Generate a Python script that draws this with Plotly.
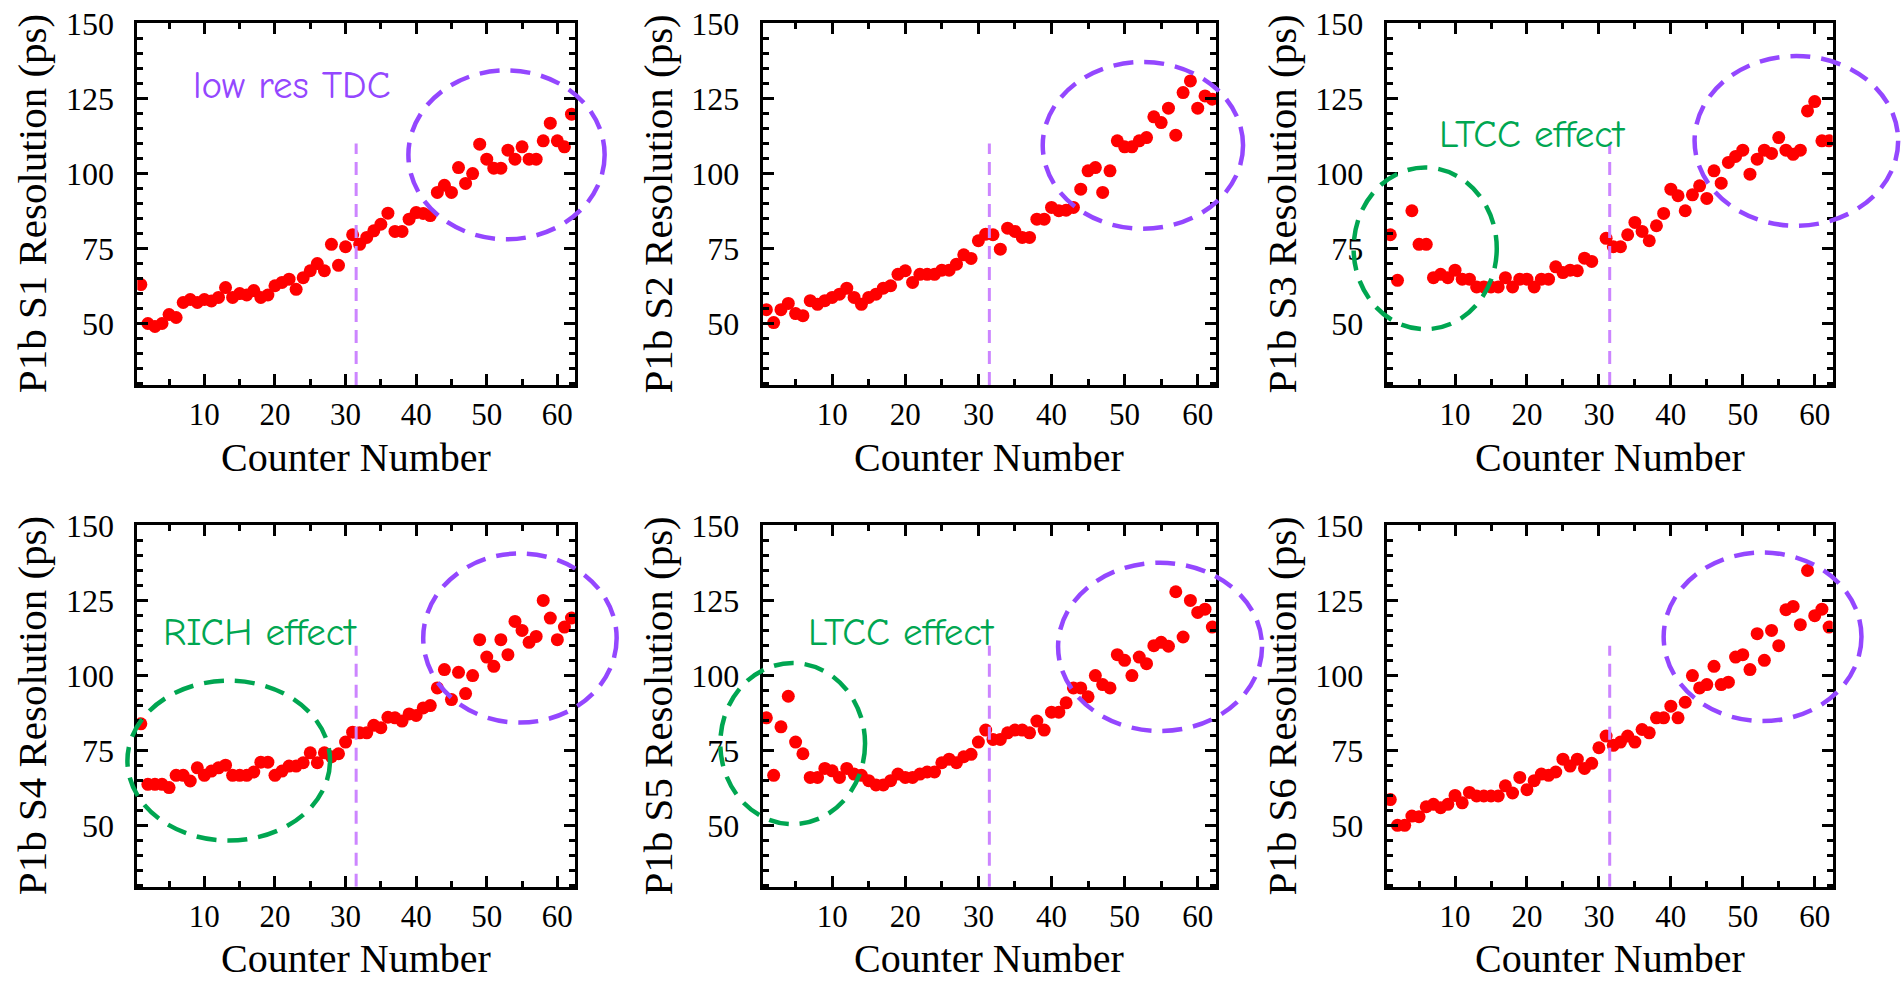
import plotly.graph_objects as go

# ---------------- data ----------------
COUNTERS = list(range(1, 63))

S1 = [63, 50, 49, 50, 53, 52, 57, 58, 57, 58, 57.5, 58.7, 62, 58.7, 60, 59.5, 61, 58.7, 59.5, 62.6,
      63.7, 64.8, 61.4, 65.3, 67.6, 70, 67.6, 76.4, 69.4, 75.6, 79.6, 76.4, 78.7, 80.9, 83.1, 86.8, 80.7, 80.7, 84.8, 87,
      86.7, 86, 93.7, 96.1, 93.7, 102, 96.7, 100, 109.8, 104.8, 101.8, 101.8, 107.8, 104.8, 108.9, 104.8, 104.8, 110.9, 116.8, 110.9,
      108.9, 119.8]
S2 = [54.6, 50.3, 54.6, 56.7, 53.3, 52.6, 57.6, 56.4, 57.6, 58.7, 59.8, 61.8, 58.7, 56.4, 58.7, 59.8, 61.8, 62.6, 66.4, 67.6,
      63.7, 66.4, 66.4, 66.4, 67.8, 67.8, 69.8, 72.9, 71.7, 77.6, 79.8, 79.6, 74.8, 81.8, 80.7, 78.7, 78.7, 84.8, 84.8, 88.7,
      87.6, 87.8, 88.7, 94.8, 100.9, 102, 93.7, 100.9, 110.9, 108.9, 108.9, 110.9, 112, 118.9, 117, 121.8, 112.8, 127, 130.9, 121.8,
      125.9, 124.8]
S3 = [79.6, 64.4, None, 87.6, 76.4, 76.4, 65.3, 66.4, 65.3, 67.8, 64.8, 64.8, 62.2, 62.2, 62.2, 62.2, 65.3, 62.2, 64.8, 64.8,
      62.2, 64.8, 64.8, 68.9, 67, 67.8, 67.6, 71.8, 70.7, None, 78.4, 75.6, 75.6, 79.6, 83.7, 80.7, 77.6, 82.6, 86.7, 94.8,
      92.6, 87.6, 92.9, 95.9, 91.7, 100.9, 96.8, 103.7, 105.7, 107.8, 99.8, 104.8, 107.8, 106.7, 112, 107.8, 106.4, 107.8, 120.9, 124,
      110.9, 110.9]
S4 = [83.9, 63.7, 63.7, 63.7, 62.6, 66.7, 66.7, 64.8, 69.2, 66.7, 68.1, 69.2, 70.1, 66.7, 66.7, 66.7, 67.8, 71.1, 71.1, 66.7,
      68.1, 69.8, 69.8, 70.9, 74.2, 70.9, 74.2, 72.9, 73.9, 77.8, 81.1, 80.9, 80.9, 83.4, 82.6, 86.1, 85.9, 84.8, 87.2, 86.7,
      89.2, 90, 95.9, 102, 92, 101.1, 94, 100, 112, 106.2, 103.1, 112, 107, 118.1, 115.1, 111.1, 113.1, 125.1, 119.2, 112,
      116.2, 119.2]
S5 = [85.9, 66.7, 82.9, 93.1, 77.8, 73.9, 66, 66, 69, 68.2, 66, 69, 67.1, 66.7, 64.9, 63.5, 63.5, 64.9, 67.1, 66,
      66, 67.1, 67.8, 67.8, 70.9, 72.1, 70.9, 72.9, 73.7, 77.8, 81.8, 78.7, 78.7, 80.9, 81.8, 81.8, 80.9, 84.8, 81.8, 87.8,
      87.8, 90.9, 95.9, 95.9, 92.9, 100, 97, 95.9, 107, 105.1, 100, 106.2, 104, 110, 111.1, 109.8, 128, 112.9, 125.1, 121.1,
      122.2, 116.2]
S6 = [58.6, 50, 50, 53.1, 52.9, 56.2, 57, 55.9, 57, 60, 57.5, 61, 59.8, 59.8, 59.8, 59.8, 63.2, 60.8, 66, 61.9,
      64.9, 67.1, 66.7, 67.8, 72.1, 69.8, 72.1, 69, 70.7, 75.9, 79.8, 76.7, 77.8, 79.8, 77.8, 82, 80.9, 85.9, 85.9, 89.8,
      85.9, 91.1, 100, 95.9, 97, 103.1, 97, 97.8, 106.2, 107, 102, 114, 105.1, 115.1, 110, 122, 123.1, 117, 135.1, 120,
      122.2, 116.2]

SERIES = [S1, S2, S3, S4, S5, S6]
SECTOR_NAMES = ["S1", "S2", "S3", "S4", "S5", "S6"]
X_TICKS = [10, 20, 30, 40, 50, 60]
Y_TICKS = [50, 75, 100, 125, 150]
X_TITLE = "Counter Number"
Y_TITLE = "P1b {} Resolution (ps)"

X_RANGE = [0.5, 62.5]
Y_RANGE = [29.5, 150.3]
DIVIDER_X = 31.5        # boundary between TDC groups
DIVIDER_TOP = 110

# annotation regions (data units): (panel, x0, x1, y0, y1, kind)
REGIONS = [
    (0, 38.9, 66.7, 78.1, 134.4, "tdc"),
    (1, 38.8, 66.2, 81.6, 137.2, "tdc"),
    (2, -4.1, 15.8, 48.1, 102.0, "det"),
    (2, 43.3, 71.6, 82.6, 139.2, "tdc"),
    (3, -0.9, 27.8, 44.9, 98.3, "det"),
    (3, 41.0, 68.4, 84.3, 140.8, "tdc"),
    (4, -5.3, 14.5, 50.4, 104.2, "det"),
    (4, 40.9, 68.8, 81.5, 137.7, "tdc"),
    (5, 39.0, 66.5, 84.8, 141.1, "tdc"),
]
LABELS = [
    (0, 22.4, 129.2, "low res TDC", "tdc"),
    (2, 20.8, 112.9, "LTCC effect", "det"),
    (3, 18.0, 114.3, "RICH effect", "det"),
    (4, 19.5, 114.3, "LTCC effect", "det"),
]

# ---------------- style ----------------
W, H = 1901, 982
COL_PX = [(137.3, 575.0), (762.7, 1216.0), (1386.7, 1832.7)]
ROW_PX = [(22.7, 385.0), (525.0, 886.7)]
COL_DOM = [(a / W, b / W) for a, b in COL_PX]
ROW_DOM = [(1 - b / H, 1 - a / H) for a, b in ROW_PX]
YTITLE_GAP = 105   # px from plot left edge to y-title centre
XTITLE_GAP = 72    # px from plot bottom edge to x-title centre
PURPLE = "#9447ff"
GREEN = "#00a651"
LIGHT_PURPLE = "#cc85ff"
SERIF = "Liberation Serif, Times New Roman, serif"
HAND = "Comic Sans MS, Comic Neue, Lato, sans-serif"
COLORS = {"tdc": PURPLE, "det": GREEN}


def dom(i):
    return COL_DOM[i % 3], ROW_DOM[i // 3]


def to_paper(i, x, y):
    (cx0, cx1), (ry0, ry1) = dom(i)
    px = cx0 + (x - X_RANGE[0]) / (X_RANGE[1] - X_RANGE[0]) * (cx1 - cx0)
    py = ry0 + (y - Y_RANGE[0]) / (Y_RANGE[1] - Y_RANGE[0]) * (ry1 - ry0)
    return px, py


fig = go.Figure()
layout = dict(
    width=W, height=H, margin=dict(l=0, r=0, t=0, b=0),
    paper_bgcolor="white", plot_bgcolor="white", showlegend=False,
    shapes=[], annotations=[],
)

for i, vals in enumerate(SERIES):
    sfx = "" if i == 0 else str(i + 1)
    fig.add_trace(go.Scatter(
        x=COUNTERS, y=vals, mode="markers", xaxis="x" + sfx, yaxis="y" + sfx,
        marker=dict(color="#ff0000", size=13, line=dict(width=0)),
        name="P1b " + SECTOR_NAMES[i],
    ))
    (cx0, cx1), (ry0, ry1) = dom(i)
    axis_common = dict(
        showgrid=False, zeroline=False, showline=True, linecolor="black", linewidth=3,
        mirror="allticks", ticks="inside", tickcolor="black", tickwidth=3, ticklen=11,
        automargin=False,
    )
    layout["xaxis" + sfx] = dict(
        axis_common, domain=[cx0, cx1], anchor="y" + sfx, range=X_RANGE,
        tickvals=X_TICKS, ticklabelstandoff=0,
        tickfont=dict(family=SERIF, size=31, color="black"),
        minor=dict(dtick=5, tick0=0, ticks="inside", ticklen=6, tickwidth=3, tickcolor="black"),
    )
    layout["yaxis" + sfx] = dict(
        axis_common, domain=[ry0, ry1], anchor="x" + sfx, range=Y_RANGE,
        tickvals=Y_TICKS, ticklabelstandoff=14,
        tickfont=dict(family=SERIF, size=32, color="black"),
        minor=dict(dtick=5, tick0=0, ticks="inside", ticklen=6, tickwidth=3, tickcolor="black"),
    )
    layout["shapes"].append(dict(
        type="line", xref="x" + sfx, yref="y" + sfx, x0=DIVIDER_X, x1=DIVIDER_X,
        y0=Y_RANGE[0], y1=DIVIDER_TOP, layer="above",
        line=dict(color=LIGHT_PURPLE, width=3, dash="13px,8px"),
    ))
    # axis titles
    (lx, rx), (ty, by) = COL_PX[i % 3], ROW_PX[i // 3]
    layout["annotations"].append(dict(
        x=(lx + rx) / 2 / W, y=1 - (by + XTITLE_GAP) / H, xref="paper", yref="paper",
        text=X_TITLE, showarrow=False, xanchor="center", yanchor="middle",
        font=dict(family=SERIF, size=40, color="black"),
    ))
    layout["annotations"].append(dict(
        x=(lx - YTITLE_GAP) / W, y=1 - (ty + by) / 2 / H, xref="paper", yref="paper",
        text=Y_TITLE.format(SECTOR_NAMES[i]), showarrow=False, textangle=-90,
        xanchor="center", yanchor="middle",
        font=dict(family=SERIF, size=41, color="black"),
    ))

for (i, x0, x1, y0, y1, kind) in REGIONS:
    px0, py0 = to_paper(i, x0, y0)
    px1, py1 = to_paper(i, x1, y1)
    layout["shapes"].append(dict(
        type="circle", xref="paper", yref="paper", x0=px0, x1=px1, y0=py0, y1=py1,
        layer="above", line=dict(color=COLORS[kind], width=4.5, dash="20px,11px"),
    ))

for (i, x, y, text, kind) in LABELS:
    sfx = "" if i == 0 else str(i + 1)
    layout["annotations"].append(dict(
        x=x, y=y, xref="x" + sfx, yref="y" + sfx, text=text, showarrow=False,
        xanchor="center", yanchor="middle",
        font=dict(family=HAND, size=39, color=COLORS[kind]),
    ))

fig.update_layout(**layout)
fig.write_html("out.html")
